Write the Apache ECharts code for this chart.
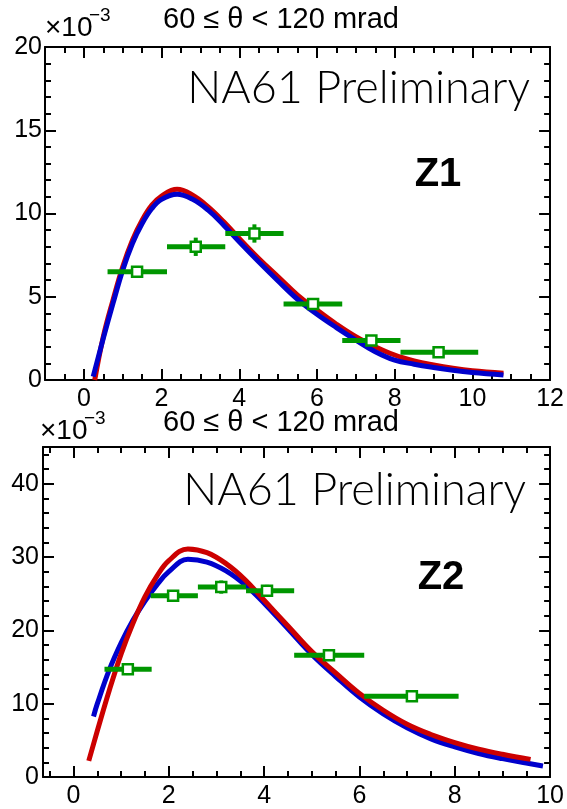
<!DOCTYPE html>
<html>
<head>
<meta charset="utf-8">
<script src="https://cdn.jsdelivr.net/npm/echarts@6.0.0/dist/echarts.min.js"></script>
<style>html,body{margin:0;padding:0;background:#fff;}#c{width:567px;height:809px;}</style>
</head>
<body>
<div id="c"></div>
<script>
// ---------- data (top panel: Z1, values in units of 1e-3) ----------
const z1_red_x = [0.28, 0.5, 0.75, 1.0, 1.25, 1.5, 1.75, 2.0, 2.4, 2.8, 3.2, 3.6, 4.0, 4.5, 5.0, 5.5, 6.0, 6.5, 7.0, 7.5, 8.0, 8.5, 9.0, 9.5, 10.0, 10.8];
const z1_red_y = [0.0, 2.6, 4.8, 6.8, 8.4, 9.6, 10.5, 11.05, 11.45, 11.1, 10.4, 9.5, 8.5, 7.3, 6.2, 5.1, 4.2, 3.35, 2.6, 2.0, 1.5, 1.15, 0.9, 0.7, 0.55, 0.4];
const z1_blue_x = [0.24, 0.5, 0.75, 1.0, 1.25, 1.5, 1.75, 2.0, 2.4, 2.8, 3.2, 3.6, 4.0, 4.5, 5.0, 5.5, 6.0, 6.5, 7.0, 7.5, 8.0, 8.5, 9.0, 9.5, 10.0, 10.8];
const z1_blue_y = [0.2, 2.5, 4.6, 6.6, 8.2, 9.4, 10.3, 10.85, 11.15, 10.85, 10.2, 9.3, 8.3, 7.1, 5.95, 4.85, 3.95, 3.15, 2.4, 1.7, 1.2, 0.95, 0.75, 0.58, 0.45, 0.3];
const z1_pt_x   = [1.37, 2.88, 4.39, 5.90, 7.40, 9.13];
const z1_pt_y   = [6.5, 8.0, 8.8, 4.56, 2.37, 1.67];
const z1_pt_xlo = [0.61, 2.14, 3.64, 5.14, 6.65, 8.15];
const z1_pt_xhi = [2.14, 3.64, 5.14, 6.65, 8.15, 10.15];
const z1_pt_err = [0.35, 0.55, 0.55, 0.3, 0.2, 0.2];

// ---------- data (bottom panel: Z2, values in units of 1e-3) ----------
const z2_red_x = [0.32, 0.5, 0.75, 1.0, 1.25, 1.5, 1.75, 2.0, 2.4, 2.8, 3.2, 3.6, 4.0, 4.5, 5.0, 5.5, 6.0, 6.5, 7.0, 7.5, 8.0, 8.5, 9.0, 9.59];
const z2_red_y = [2.2, 6.3, 11.8, 16.8, 21.0, 24.6, 27.4, 29.5, 31.1, 30.6, 29.1, 26.9, 24.1, 20.6, 17.1, 14.2, 11.4, 9.1, 7.2, 5.8, 4.7, 3.8, 3.1, 2.4];
const z2_blue_x = [0.42, 0.5, 0.75, 1.0, 1.25, 1.5, 1.75, 2.0, 2.4, 2.8, 3.2, 3.6, 4.0, 4.5, 5.0, 5.5, 6.0, 6.5, 7.0, 7.5, 8.0, 8.5, 9.0, 9.5, 9.85];
const z2_blue_y = [8.25, 10.0, 14.6, 18.3, 21.4, 24.0, 26.2, 28.0, 29.7, 29.3, 28.1, 26.2, 23.7, 20.2, 16.7, 13.7, 10.9, 8.6, 6.7, 5.2, 4.1, 3.2, 2.5, 1.9, 1.5];
const z2_pt_x   = [1.14, 2.09, 3.10, 4.06, 5.36, 7.10];
const z2_pt_y   = [14.7, 24.7, 25.9, 25.4, 16.6, 11.0];
const z2_pt_xlo = [0.65, 1.62, 2.61, 3.62, 4.63, 6.10];
const z2_pt_xhi = [1.64, 2.61, 3.62, 4.63, 6.10, 8.08];
const z2_pt_err = [0.8, 0.8, 0.9, 0.8, 0.5, 0.4];

// ---------- tick labels ----------
const z1_x_major = [0, 2, 4, 6, 8, 10, 12];
const z1_x_minor = [-1, -0.5, 0.5, 1, 1.5, 2.5, 3, 3.5, 4.5, 5, 5.5, 6.5, 7, 7.5, 8.5, 9, 9.5, 10.5, 11, 11.5];
const z1_y_major = [0, 5, 10, 15, 20];
const z1_y_minor = [1, 2, 3, 4, 6, 7, 8, 9, 11, 12, 13, 14, 16, 17, 18, 19];
const z2_x_major = [0, 2, 4, 6, 8, 10];
const z2_x_minor = [-0.5, 0.5, 1, 1.5, 2.5, 3, 3.5, 4.5, 5, 5.5, 6.5, 7, 7.5, 8.5, 9, 9.5];
const z2_y_major = [0, 10, 20, 30, 40];
const z2_y_minor = [2, 4, 6, 8, 12, 14, 16, 18, 22, 24, 26, 28, 32, 34, 36, 38, 42, 44];

const titleText = '60 \u2264 \u03b8 < 120 mrad';
const GREEN = '#009600', RED = '#cc0000', BLUE = '#0000cc';
const FONT = 'Liberation Sans';

function zip(a, b) { return a.map((v, i) => [v, b[i]]); }

function tick(len, vals) {
  return { show: true, inside: true, length: len, customValues: vals, lineStyle: { color: '#000', width: 2 } };
}
function makeAxes(grid, min, max, major, minor, posA, posB, labelMargin) {
  const base = { type: 'value', gridIndex: grid, min: min, max: max, splitLine: { show: false } };
  const line = { show: true, onZero: false, lineStyle: { color: '#000', width: 2 } };
  const noLine = { show: false, onZero: false };
  return [
    Object.assign({}, base, { position: posA, axisLine: line, axisTick: tick(11, major),
      axisLabel: { show: true, customValues: major, color: '#000', fontFamily: FONT, fontSize: 25, margin: labelMargin } }),
    Object.assign({}, base, { position: posA, axisLine: noLine, axisTick: tick(6, minor), axisLabel: { show: false } }),
    Object.assign({}, base, { position: posB, axisLine: line, axisTick: tick(11, major), axisLabel: { show: false } }),
    Object.assign({}, base, { position: posB, axisLine: noLine, axisTick: tick(6, minor), axisLabel: { show: false } })
  ];
}

function curve(name, xs, ys, color, idx, z) {
  return { type: 'line', name: name, xAxisIndex: idx, yAxisIndex: idx, data: zip(xs, ys),
    smooth: 0.4, showSymbol: false, symbol: 'none', z: z,
    lineStyle: { color: color, width: 5 } };
}
function points(xs, ys, lo, hi, err, idx) {
  return { type: 'custom', xAxisIndex: idx, yAxisIndex: idx, z: 10,
    data: xs.map((x, i) => [x, ys[i], lo[i], hi[i], err[i]]),
    renderItem: function (params, api) {
      const c = api.coord([api.value(0), api.value(1)]);
      const l = api.coord([api.value(2), api.value(1)]);
      const r = api.coord([api.value(3), api.value(1)]);
      const t = api.coord([api.value(0), api.value(1) + api.value(4)]);
      const b = api.coord([api.value(0), api.value(1) - api.value(4)]);
      return { type: 'group', children: [
        { type: 'line', shape: { x1: l[0], y1: l[1], x2: r[0], y2: r[1] }, style: { stroke: GREEN, lineWidth: 5 } },
        { type: 'line', shape: { x1: c[0], y1: t[1], x2: c[0], y2: b[1] }, style: { stroke: GREEN, lineWidth: 4 } },
        { type: 'rect', shape: { x: c[0] - 5, y: c[1] - 5, width: 10, height: 10 }, style: { fill: '#fff', stroke: GREEN, lineWidth: 2.5 } }
      ] };
    } };
}

const chart = echarts.init(document.getElementById('c'), null, { renderer: 'canvas' });
chart.setOption({
  animation: false,
  backgroundColor: '#fff',
  grid: [
    { left: 45, right: 11, top: 47, height: 333 },
    { left: 43, right: 11, top: 447, height: 335 }
  ],
  xAxis: [].concat(makeAxes(0, -1, 12, z1_x_major, z1_x_minor, 'bottom', 'top', 7),
                   makeAxes(1, -0.64, 10, z2_x_major, z2_x_minor, 'bottom', 'top', 7)),
  yAxis: [].concat(makeAxes(0, 0, 20, z1_y_major, z1_y_minor, 'left', 'right', 3),
                   makeAxes(1, 0, 45, z2_y_major, z2_y_minor, 'left', 'right', 4)),
  series: [
    curve('Z1 red', z1_red_x, z1_red_y, RED, 0, 3),
    curve('Z1 blue', z1_blue_x, z1_blue_y, BLUE, 0, 4),
    points(z1_pt_x, z1_pt_y, z1_pt_xlo, z1_pt_xhi, z1_pt_err, 0),
    curve('Z2 blue', z2_blue_x, z2_blue_y, BLUE, 4, 3),
    curve('Z2 red', z2_red_x, z2_red_y, RED, 4, 4),
    points(z2_pt_x, z2_pt_y, z2_pt_xlo, z2_pt_xhi, z2_pt_err, 4)
  ],
  graphic: [
    { type: 'text', x: 281, y: 5, style: { text: titleText, font: '29px "Liberation Sans"', fill: '#000', textAlign: 'center' } },
    { type: 'text', x: 45, y: 14, style: { text: '\u00d710', font: '28px "Liberation Sans"', fill: '#000' } },
    { type: 'text', x: 89, y: 6, style: { text: '\u22123', font: '19px "Liberation Sans"', fill: '#000' } },
    { type: 'text', x: 530, y: 88, style: { text: 'NA61 Preliminary', font: '300 45px Lato', fill: '#000', textAlign: 'right', textVerticalAlign: 'middle' } },
    { type: 'text', x: 438, y: 175, style: { text: 'Z1', font: 'bold 40px "Liberation Sans"', fill: '#000', textAlign: 'center', textVerticalAlign: 'middle' } },
    { type: 'text', x: 281, y: 408, style: { text: titleText, font: '29px "Liberation Sans"', fill: '#000', textAlign: 'center' } },
    { type: 'text', x: 40, y: 417, style: { text: '\u00d710', font: '28px "Liberation Sans"', fill: '#000' } },
    { type: 'text', x: 84, y: 409, style: { text: '\u22123', font: '19px "Liberation Sans"', fill: '#000' } },
    { type: 'text', x: 526, y: 490, style: { text: 'NA61 Preliminary', font: '300 45px Lato', fill: '#000', textAlign: 'right', textVerticalAlign: 'middle' } },
    { type: 'text', x: 441, y: 578, style: { text: 'Z2', font: 'bold 40px "Liberation Sans"', fill: '#000', textAlign: 'center', textVerticalAlign: 'middle' } }
  ]
});
</script>
</body>
</html>
